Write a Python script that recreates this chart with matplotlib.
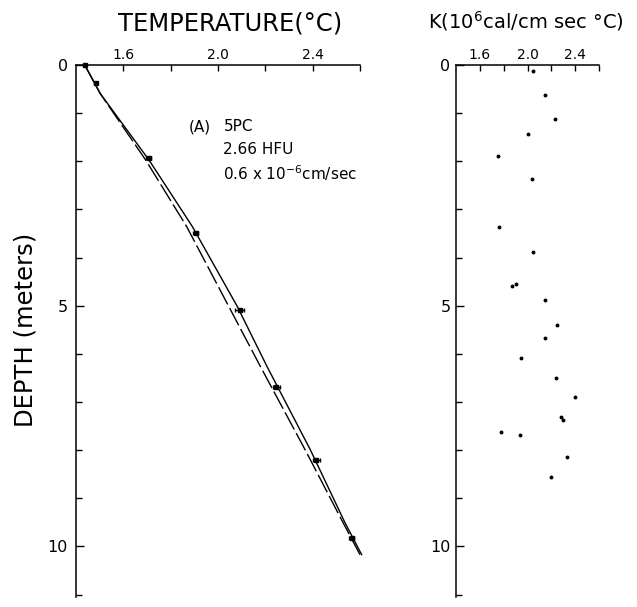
import matplotlib
matplotlib.use('Agg')
import matplotlib.pyplot as plt
from matplotlib.ticker import MultipleLocator, FixedLocator

plt.rcParams['font.family'] = ['DejaVu Sans']

# Temperaturmessungen (mit kleinem Fehlerbalken)
temp_depth = [0, 0.38, 1.93, 3.49, 5.08, 6.68, 8.21, 9.83]
temp_value = [1.437, 1.483, 1.707, 1.905, 2.091, 2.246, 2.415, 2.565]
temp_err = [0.005, 0.005, 0.012, 0.012, 0.02, 0.015, 0.015, 0.01]

# Modellkurven: durchgezogen und gestrichelt
fit_depth = [0, 0.59, 1.97, 3.35, 5.01, 6.26, 7.99, 9.5, 10.17]
fit_solid = [1.437, 1.502, 1.708, 1.891, 2.081, 2.207, 2.390, 2.536, 2.607]
fit_dashed = [1.437, 1.502, 1.694, 1.867, 2.045, 2.179, 2.368, 2.528, 2.600]

# Wärmeleitfähigkeit
k_depth = [0.13, 0.63, 1.12, 1.43, 1.88, 2.37, 3.37, 3.88, 4.55, 4.60, 4.88,
           5.40, 5.68, 6.09, 6.51, 6.90, 7.32, 7.37, 7.62, 7.68, 8.14, 8.56]
k_value = [2.05, 2.15, 2.23, 2.00, 1.755, 2.04, 1.757, 2.05, 1.90, 1.87, 2.15,
           2.25, 2.15, 1.945, 2.24, 2.40, 2.285, 2.30, 1.78, 1.94, 2.33, 2.20]

x_ticks = [1.6, 2.0, 2.4]
x_ticklbl = ['1.6', '2.0', '2.4']
y_ticks = [0, 5, 10]
y_ticklbl = ['0', '5', '10']


def style_axis(ax, ypad):
    ax.set_xlim(1.4, 2.6)
    ax.set_ylim(11.05, 0)
    for side in ['right', 'bottom']:
        ax.spines[side].set_visible(False)
    for side in ['top', 'left']:
        ax.spines[side].set_linewidth(1.1)
    ax.xaxis.tick_top()
    ax.set_xticks(x_ticks)
    ax.set_xticklabels(x_ticklbl)
    ax.xaxis.set_minor_locator(FixedLocator([1.8, 2.2, 2.6]))
    ax.set_yticks(y_ticks)
    ax.set_yticklabels(y_ticklbl)
    ax.yaxis.set_minor_locator(MultipleLocator(1))
    ax.tick_params(axis='x', which='both', direction='in', length=4,
                   width=1, pad=2, labelsize=10)
    ax.tick_params(axis='y', which='major', direction='in', length=6,
                   width=1, pad=ypad, labelsize=11.5)
    ax.tick_params(axis='y', which='minor', direction='in', length=4, width=1)


def main():
    fig = plt.figure(figsize=(6.37, 6.07), dpi=100)
    ax1 = fig.add_axes([0.1193, 0.0165, 0.4458, 0.8764])
    ax2 = fig.add_axes([0.7159, 0.0165, 0.2245, 0.8764])

    style_axis(ax1, 6)
    style_axis(ax2, 4)

    # linkes Diagramm
    ax1.plot(fit_solid, fit_depth, '-', color='black', linewidth=1.0,
             clip_on=False)
    ax1.plot(fit_dashed, fit_depth, color='black', linewidth=1.0,
             dashes=(14, 3), clip_on=False)
    ax1.errorbar(temp_value, temp_depth, xerr=temp_err, fmt='s',
                 color='black', markersize=3.5, elinewidth=1, capsize=1.5,
                 clip_on=False)
    ax1.text(1.875, 1.28, '(A)', fontsize=11, va='center')
    ax1.text(2.023, 1.28, '5PC', fontsize=11, va='center')
    ax1.text(2.023, 1.76, '2.66 HFU', fontsize=11, va='center')
    ax1.text(2.023, 2.24, r'0.6 x 10$^{-6}$cm/sec', fontsize=11, va='center')

    # rechtes Diagramm
    ax2.plot(k_value, k_depth, 'o', color='black', markersize=1.8)

    fig.text(0.362, 0.961, 'TEMPERATURE(°C)', fontsize=17.5,
             ha='center', va='center')
    fig.text(0.826, 0.966, r'K(10$^{6}$cal/cm sec °C)', fontsize=14,
             ha='center', va='center')
    fig.text(0.04, 0.456, 'DEPTH (meters)', fontsize=17.5, rotation=90,
             ha='center', va='center')

    fig.savefig('out.png', dpi=100)


if __name__ == '__main__':
    main()
